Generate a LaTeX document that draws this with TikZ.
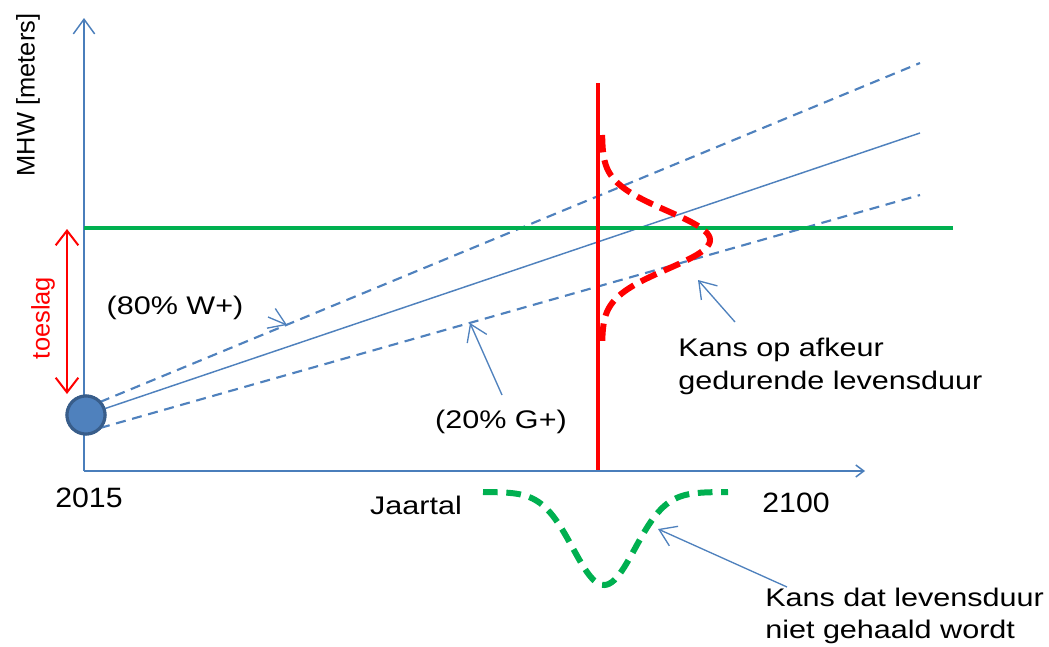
\documentclass[tikz,border=0pt]{standalone}
\usepackage{fontspec}
\setmainfont{Liberation Sans}
\usepackage{graphicx}
\usetikzlibrary{arrows.meta}
\definecolor{axisblue}{HTML}{4A7EBB}
\definecolor{lineblue}{HTML}{4F81BD}
\definecolor{dotedge}{HTML}{385D8A}
\definecolor{grn}{HTML}{00B050}
\newcommand\hsc[1]{\scalebox{1.2}[1]{#1}}
\newcommand\ysc[1]{\scalebox{1.08}[1]{#1}}
\begin{document}
\begin{tikzpicture}[x=0.75pt,y=-0.75pt,
  txt/.style={inner sep=0pt, font=\fontsize{19.1}{24.5}\selectfont, text=black},
  yeartxt/.style={inner sep=0pt, font=\fontsize{21}{25}\selectfont, text=black},
  axisline/.style={draw=axisblue, line width=1.1pt},
  bigtip/.style={-{Straight Barb[length=11pt,width=16pt]}},
  smalltip/.style={-{Straight Barb[length=6pt,width=9pt]}},
  calltip/.style={draw=lineblue, line width=1pt, -{Straight Barb[length=12pt,width=16pt]}},
  bluedash/.style={draw=lineblue, line width=1.6pt, dash pattern=on 7.5pt off 5pt},
  bluesolid/.style={draw=lineblue, line width=1.1pt},
  greenline/.style={draw=grn, line width=2.6pt},
  redline/.style={draw=red, line width=2.3pt},
  reddash/.style={draw=red, line width=4.5pt, dash pattern=on 13pt off 6pt},
  greendash/.style={draw=grn, line width=4.5pt, dash pattern=on 11pt off 6.5pt},
  dotstyle/.style={circle, fill=lineblue, draw=dotedge, line width=2.3pt, minimum size=28.5pt, inner sep=0pt}
]
\useasboundingbox (0,0) rectangle (1049,646);

% coordinates
\coordinate (origin) at (84,471);
\coordinate (ytop) at (84,18);
\coordinate (xend) at (865,471);
\coordinate (upS) at (100,402);
\coordinate (upE) at (920,63);
\coordinate (midE) at (920,133);
\coordinate (loS) at (100,428);
\coordinate (loE) at (920,195);
\coordinate (gS) at (84,228);
\coordinate (gE) at (953,228);
\coordinate (rT) at (598,83);
\coordinate (rB) at (598,470);
\coordinate (toeT) at (67,229);
\coordinate (toeB) at (67,394);

% axes
\draw[axisline, bigtip] (origin) -- (ytop);
\draw[axisline, smalltip] (origin) -- (xend);

% scenario lines
\node[dotstyle] (dot) at (86,415) {};
\draw[bluedash] (upS) -- (upE);
\draw[bluesolid] (dot.center) -- (midE);
\draw[bluedash] (loS) -- (loE);

% green level
\draw[greenline] (gS) -- (gE);

% red vertical line and distribution
\draw[redline] (rT) -- (rB);
\draw[reddash] plot[domain=135:347, samples=100, variable=\t] ({602+108*exp(-0.5*((\t-240)/29)^2)}, {\t});

% green distribution
\draw[greendash] plot[domain=483:728, samples=100, variable=\t] ({\t}, {492+93*exp(-0.5*((\t-604)/31)^2)});

% dot on top
\node[dotstyle] at (86,415) {};

% toeslag arrow
\draw[draw=red, line width=1.5pt, {Straight Barb[length=11pt,width=17pt]}-{Straight Barb[length=11pt,width=17pt]}] (toeT) -- (toeB);

% labels
\node[txt, rotate=90] (mhw) at (28,95) {MHW [meters]};
\node[txt, rotate=90, text=red] (toeslag) at (43,318) {toeslag};
\node[txt] (w80) at (175,308) {\hsc{(80\% W+)}};
\node[yeartxt] (y2015) at (89,498) {\ysc{2015}};
\node[txt] (jaar) at (416,505) {\hsc{Jaartal}};
\node[yeartxt] (y2100) at (796,503) {\ysc{2100}};
\node[txt] (g20) at (501,422) {\hsc{(20\% G+)}};
\node[txt, anchor=west] (afkeur) at (678,366.5) {\hsc{\begin{tabular}{@{}l@{}}Kans op afkeur\\gedurende levensduur\end{tabular}}};
\node[txt, anchor=west] (gehaald) at (765,616) {\hsc{\begin{tabular}{@{}l@{}}Kans dat levensduur\\niet gehaald wordt\end{tabular}}};

% callout arrows
\coordinate (w80tail) at (268,317);
\coordinate (w80tip) at (287,325);
\coordinate (g20tail) at (502,395);
\coordinate (g20tip) at (470,323);
\coordinate (afktail) at (735,322);
\coordinate (afktip) at (698,280);
\coordinate (gehtail) at (787,587);
\coordinate (gehtip) at (658,529);
\draw[calltip] (w80tail) -- (w80tip);
\draw[calltip] (g20tail) -- (g20tip);
\draw[calltip] (afktail) -- (afktip);
\draw[calltip] (gehtail) -- (gehtip);
\end{tikzpicture}
\end{document}
